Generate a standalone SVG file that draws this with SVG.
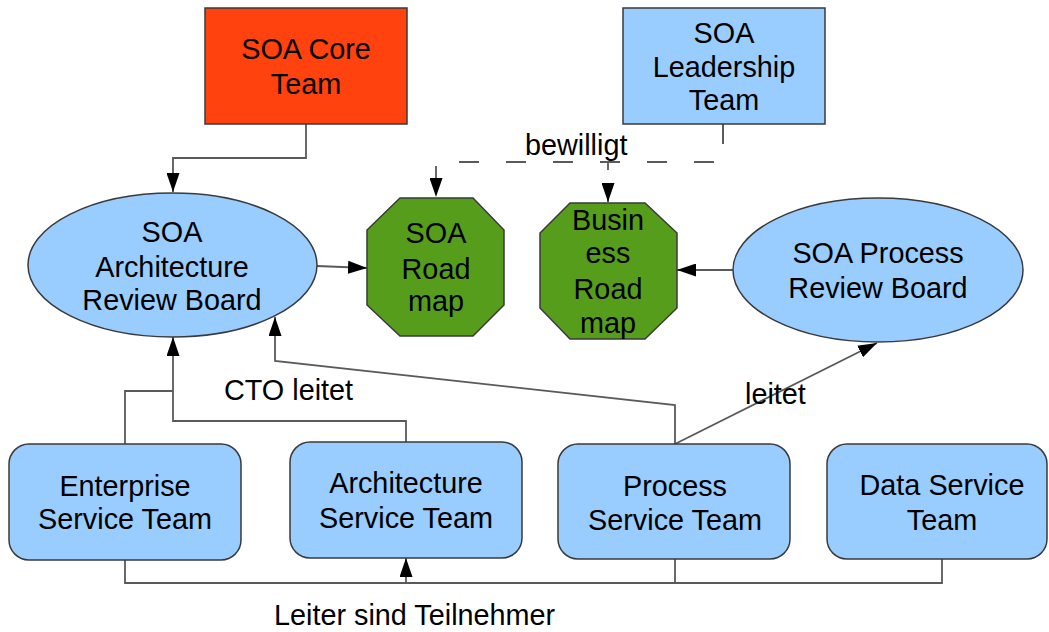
<svg xmlns="http://www.w3.org/2000/svg" width="1049" height="632" viewBox="0 0 1049 632">
<style>
text{font-family:"Liberation Sans",Arial,sans-serif;font-size:28.8px;fill:#000;text-anchor:middle}
.lbl{text-anchor:start}
.box{fill:#99ccff;stroke:#3a3a3a;stroke-width:1.5}
.core{fill:#ff420e;stroke:#3a3a3a;stroke-width:1.5}
.oct{fill:#579d1c;stroke:#3a3a3a;stroke-width:1.5}
.c{fill:none;stroke:#5a5a5a;stroke-width:1.8}
.d{stroke-dasharray:20 27}
</style>
<defs>
<marker id="ah" markerUnits="userSpaceOnUse" markerWidth="19" markerHeight="13" refX="19" refY="6.5" orient="auto">
<path d="M0,0 L19,6.5 L0,13 z" fill="#000"/>
</marker>
</defs>
<g id="connectors">
<path class="c" d="M306,124 V158 H173 V192" marker-end="url(#ah)"/>
<path class="c" d="M317,266 L367,268" marker-end="url(#ah)"/>
<path class="c" d="M733,270 L677,270" marker-end="url(#ah)"/>
<path class="c d" d="M723,124 V162 H436 V197" marker-end="url(#ah)"/>
<path class="c d" d="M723,124 V162 H608 V202" marker-end="url(#ah)"/>
<path class="c" d="M125,444 V391 H173"/>
<path class="c" d="M406,442 V421 H173 V337" marker-end="url(#ah)"/>
<path class="c" d="M675,444 V405 L275,361 V317" marker-end="url(#ah)"/>
<path class="c" d="M675,444 L877,343" marker-end="url(#ah)"/>
<path class="c" d="M125,560 V583 H942 V559"/>
<path class="c" d="M675,559 V583"/>
<path class="c" d="M406,583 V558" marker-end="url(#ah)"/>
<text class="lbl" x="525" y="155">bewilligt</text>
<text class="lbl" x="224" y="400">CTO leitet</text>
<text class="lbl" x="745" y="404">leitet</text>
<text class="lbl" x="274" y="625">Leiter sind Teilnehmer</text>
</g>
<g id="soa-core-team">
<rect class="core" x="205" y="8" width="202" height="116"/>
<text x="306" y="59">SOA Core</text>
<text x="306" y="94">Team</text>
</g>
<g id="soa-leadership-team">
<rect class="box" x="623" y="8" width="202" height="116"/>
<text x="724" y="43">SOA</text>
<text x="724" y="77">Leadership</text>
<text x="724" y="110">Team</text>
</g>
<g id="soa-architecture-review-board">
<ellipse class="box" cx="172.5" cy="265" rx="144.5" ry="72"/>
<text x="172" y="242">SOA</text>
<text x="172" y="277">Architecture</text>
<text x="172" y="310">Review Board</text>
</g>
<g id="soa-roadmap">
<polygon class="oct" points="400,198 473,198 504,230 504,305 473,336 400,336 367,305 367,230"/>
<text x="436" y="243">SOA</text>
<text x="436" y="279">Road</text>
<text x="436" y="311">map</text>
</g>
<g id="business-roadmap">
<polygon class="oct" points="570,203 645,203 677,233 677,308 645,339 570,339 540,308 540,233"/>
<text x="608" y="230">Busin</text>
<text x="608" y="263">ess</text>
<text x="608" y="299">Road</text>
<text x="608" y="333">map</text>
</g>
<g id="soa-process-review-board">
<ellipse class="box" cx="878" cy="270" rx="145" ry="72"/>
<text x="878" y="263">SOA Process</text>
<text x="878" y="298">Review Board</text>
</g>
<g id="enterprise-service-team">
<rect class="box" x="9" y="444" width="232" height="116" rx="20"/>
<text x="125" y="496">Enterprise</text>
<text x="125" y="529">Service Team</text>
</g>
<g id="architecture-service-team">
<rect class="box" x="290" y="442" width="232" height="116" rx="20"/>
<text x="406" y="493">Architecture</text>
<text x="406" y="528">Service Team</text>
</g>
<g id="process-service-team">
<rect class="box" x="558" y="444" width="232" height="115" rx="20"/>
<text x="675" y="496">Process</text>
<text x="675" y="530">Service Team</text>
</g>
<g id="data-service-team">
<rect class="box" x="827" y="444" width="220" height="115" rx="20"/>
<text x="942" y="495">Data Service</text>
<text x="942" y="530">Team</text>
</g>
</svg>
